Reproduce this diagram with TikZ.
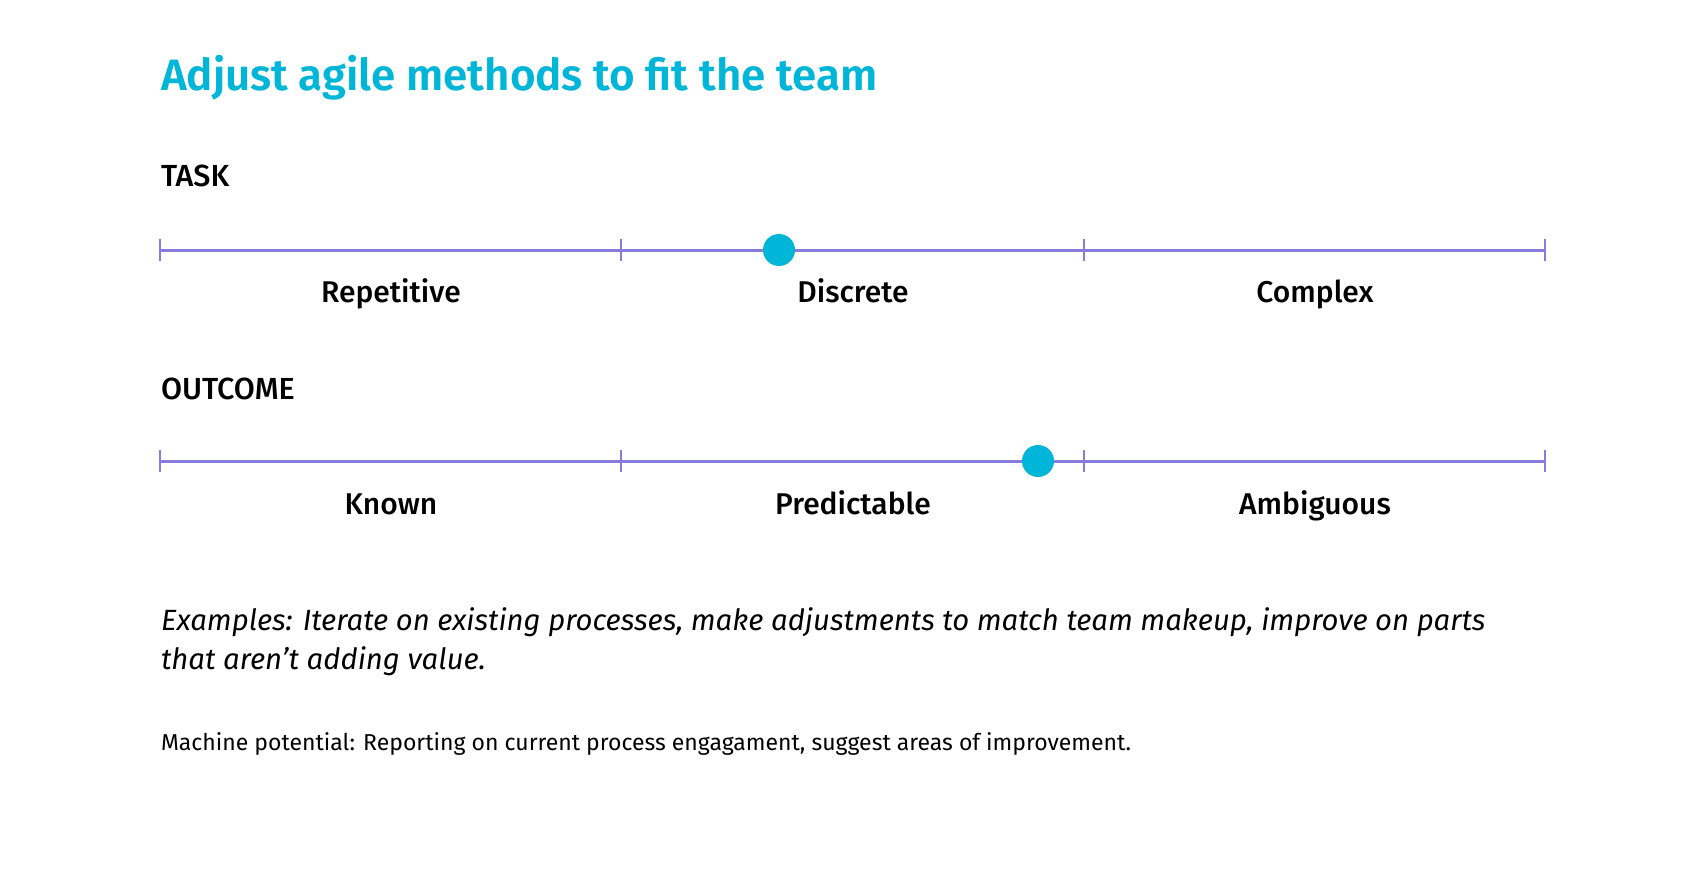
\documentclass[tikz,border=0pt]{standalone}
\usepackage{fontspec}
\setmainfont{Fira Sans}
\newfontfamily\semib{Fira Sans SemiBold}
\newfontfamily\medf{Fira Sans Medium}
\definecolor{ttl}{RGB}{0,182,216}
\definecolor{scale}{RGB}{137,123,222}
\begin{document}
\begin{tikzpicture}[x=1pt,y=-1pt,
  txt/.style={inner sep=0pt, outer sep=0pt, anchor=base west},
  head/.style={txt, font=\medf\fontsize{30.5}{36}\selectfont},
  lbl/.style={inner sep=0pt, anchor=base, font=\medf\fontsize{30}{36}\selectfont},
  ital/.style={txt, font=\itshape\fontsize{29.3}{36}\selectfont},
  axis/.style={draw=scale, line width=3pt},
  tick/.style={draw=scale, line width=2.5pt},
  dot/.style={circle, fill=ttl, minimum size=32pt, inner sep=0pt}]
\useasboundingbox[fill=white] (0,0) rectangle (1706,872);
\node[txt, text=ttl, font=\semib\fontsize{43.9}{50}\selectfont] (title) at (161,91) {Adjust agile methods to fit the team};
\node[head] (task) at (161,186) {TASK};
\node[head] (outcome) at (161,399) {OUTCOME};
\foreach \i/\x in {0/160,1/621,2/1084,3/1545}{
  \coordinate (a\i) at (\x,250);
  \coordinate (b\i) at (\x,461);
}
\draw[axis] (a0) -- (a3);
\draw[axis] (b0) -- (b3);
\foreach \i in {0,1,2,3}{
  \draw[tick] ([yshift=-11pt]a\i) -- ([yshift=11pt]a\i);
  \draw[tick] ([yshift=-11pt]b\i) -- ([yshift=11pt]b\i);
}
\node[dot] (d1) at (779,250) {};
\node[dot] (d2) at (1038,461) {};
\node[lbl] (rep) at (391,302) {Repetitive};
\node[lbl] (dis) at (853,302) {Discrete};
\node[lbl] (com) at (1315,302) {Complex};
\node[lbl] (kno) at (391,514) {Known};
\node[lbl] (pre) at (853,514) {Predictable};
\node[lbl] (amb) at (1315,514) {Ambiguous};
\node[ital] (ex1) at (161,630) {Examples: Iterate on existing processes, make adjustments to match team makeup, improve on parts};
\node[ital] (ex2) at (161,669) {that aren’t adding value.};
\node[txt, font=\fontsize{23}{27}\selectfont] (mach) at (161,750) {Machine potential: Reporting on current process engagament, suggest areas of improvement.};
\end{tikzpicture}
\end{document}
